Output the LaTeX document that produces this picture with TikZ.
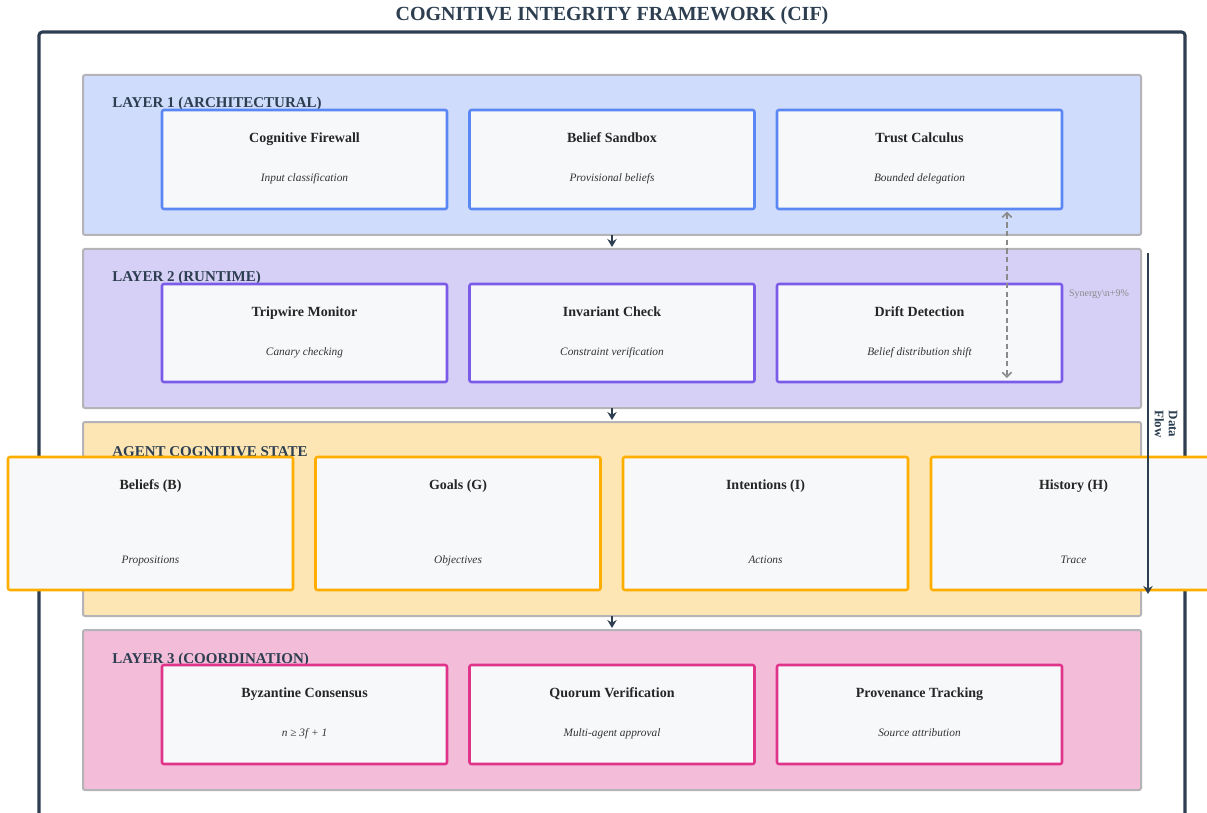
\documentclass[tikz,border=0pt]{standalone}
\usepackage{fontspec}
\setmainfont{Liberation Serif}
\usetikzlibrary{arrows.meta}

\definecolor{ink}{HTML}{2C3E50}
\definecolor{layerline}{HTML}{B4B4B8}
\definecolor{partfill}{HTML}{F7F8FA}
\definecolor{archfill}{HTML}{D0DCFC}
\definecolor{archline}{HTML}{5B87F5}
\definecolor{runfill}{HTML}{D6CFF6}
\definecolor{runline}{HTML}{7A5CE8}
\definecolor{statefill}{HTML}{FDE6B3}
\definecolor{stateline}{HTML}{FFAE00}
\definecolor{coordfill}{HTML}{F3BCD9}
\definecolor{coordline}{HTML}{E0338A}
\definecolor{linkgray}{HTML}{8A8A8A}

\tikzset{
  sz/.style 2 args={minimum width=#1*0.75pt, minimum height=#2*0.75pt},
  layer/.style={draw=layerline, line width=1.5pt, rounded corners=1.5pt,
                inner sep=0pt, outer sep=0pt},
  part/.style={fill=partfill, line width=1.9pt, rounded corners=1.5pt,
               inner sep=0pt, outer sep=0pt},
  layerlabel/.style={anchor=west, inner sep=0pt, text=ink,
                     font=\fontsize{11.25}{13}\selectfont\bfseries},
  parttitle/.style={inner sep=0pt, text=black!85, text height=0.72em, text depth=0.22em,
                    font=\fontsize{10.5}{12}\selectfont\bfseries},
  partnote/.style={inner sep=0pt, text=black!80, text height=0.72em, text depth=0.22em,
                   font=\fontsize{8.5}{10}\selectfont\itshape},
  flow/.style={draw=ink, line width=1.5pt,
               -{Stealth[length=6pt,width=7pt,inset=2pt]}},
  link/.style={draw=linkgray, line width=1.2pt, dash pattern=on 4pt off 2.5pt,
               {Straight Barb[length=3.5pt,width=7pt]}-{Straight Barb[length=3.5pt,width=7pt]}},
}

\begin{document}
\begin{tikzpicture}[x=0.75pt,y=-0.75pt]
\useasboundingbox (0,0) rectangle (1207,813);
\clip (0,0) rectangle (1207,813);
\fill[white] (0,0) rectangle (1207,813);

% title
\node[text=ink, font=\fontsize{15}{18}\selectfont\bfseries, inner sep=0pt]
  (title) at (612,15.5) {COGNITIVE INTEGRITY FRAMEWORK (CIF)};

% outer frame (open at the bottom of the page)
\coordinate (frameSW) at (39,840);
\coordinate (frameNE) at (1185,32);
\draw[ink, line width=2.3pt, rounded corners=2.5pt] (frameSW) rectangle (frameNE);

% layers
\node[layer, fill=archfill,  sz={1058}{160}] (l1) at (612,155) {};
\node[layer, fill=runfill,   sz={1058}{159}] (l2) at (612,328.5) {};
\node[layer, fill=statefill, sz={1058}{194}] (st) at (612,519) {};
\node[layer, fill=coordfill, sz={1058}{160}] (l3) at (612,710) {};

\node[layerlabel] (l1-lab) at ([xshift=21.75pt,yshift=-21.75pt]l1.north west) {LAYER 1 (ARCHITECTURAL)};
\node[layerlabel] (l2-lab) at ([xshift=21.75pt,yshift=-21.75pt]l2.north west) {LAYER 2 (RUNTIME)};
\node[layerlabel] (st-lab) at ([xshift=21.75pt,yshift=-22.5pt]st.north west) {AGENT COGNITIVE STATE};
\node[layerlabel] (l3-lab) at ([xshift=21.75pt,yshift=-22.5pt]l3.north west) {LAYER 3 (COORDINATION)};

% layer 1 components
\foreach \nm/\cx/\ttl/\sub in {cf/304.5/Cognitive Firewall/Input classification,
                               bs/612/Belief Sandbox/Provisional beliefs,
                               tc/919.5/Trust Calculus/Bounded delegation}{
  \node[part, draw=archline, sz={285}{99}] (\nm) at (\cx,159.5) {};
  \node[parttitle] (\nm-t) at ([yshift=-21.75pt]\nm.north) {\ttl};
  \node[partnote]  (\nm-n) at ([yshift=-51pt]\nm.north) {\sub};
}

% layer 2 components
\foreach \nm/\cx/\ttl/\sub in {tm/304.5/Tripwire Monitor/Canary checking,
                               ic/612/Invariant Check/Constraint verification,
                               dd/919.5/Drift Detection/Belief distribution shift}{
  \node[part, draw=runline, sz={285}{98}] (\nm) at (\cx,333) {};
  \node[parttitle] (\nm-t) at ([yshift=-21.75pt]\nm.north) {\ttl};
  \node[partnote]  (\nm-n) at ([yshift=-51pt]\nm.north) {\sub};
}

% flows between layers
\draw[flow] (l1.south) -- ([yshift=1.5pt]l2.north);
\draw[flow] (l2.south) -- ([yshift=1.5pt]st.north);
\draw[flow] (st.south) -- ([yshift=1.5pt]l3.north);

% agent cognitive state
\foreach \nm/\cx/\ttl/\sub in {bel/150.5/Beliefs (B)/Propositions,
                               goa/458/Goals (G)/Objectives,
                               int/765.5/Intentions (I)/Actions,
                               his/1073.5/History (H)/Trace}{
  \node[part, draw=stateline, sz={285}{133}] (\nm) at (\cx,523.5) {};
  \node[parttitle] (\nm-t) at ([yshift=-21.75pt]\nm.north) {\ttl};
  \node[partnote]  (\nm-n) at ([yshift=-77.25pt]\nm.north) {\sub};
}

% layer 3 components
\foreach \nm/\cx/\ttl/\sub in {bc/304.5/Byzantine Consensus/n ≥ 3f + 1,
                               qv/612/Quorum Verification/Multi-agent approval,
                               pt/919.5/Provenance Tracking/Source attribution}{
  \node[part, draw=coordline, sz={285}{99}] (\nm) at (\cx,714.5) {};
  \node[parttitle] (\nm-t) at ([yshift=-21.75pt]\nm.north) {\ttl};
  \node[partnote]  (\nm-n) at ([yshift=-51pt]\nm.north) {\sub};
}

% trust <-> drift link
\coordinate (linkA) at ([xshift=65.6pt,yshift=-2pt]tc.south);
\coordinate (linkB) at ([xshift=65.6pt,yshift=3pt]dd.south);
\draw[link] (linkA) -- (linkB);
\node[text=linkgray, font=\fontsize{7.5}{9}\selectfont, inner sep=0pt]
  (syn) at (1099,294) {Synergy\textbackslash n+9\%};

% data flow
\coordinate (dfTop) at (1148,253);
\coordinate (dfEnd) at (1148,594);
\draw[flow, line width=1.8pt] (dfTop) -- (dfEnd);
\node[rotate=-90, text=ink, align=center, inner sep=0pt,
      font=\fontsize{9.75}{10.5}\selectfont\bfseries] (dfLab) at (1166,424) {Data\\Flow};
\end{tikzpicture}
\end{document}
